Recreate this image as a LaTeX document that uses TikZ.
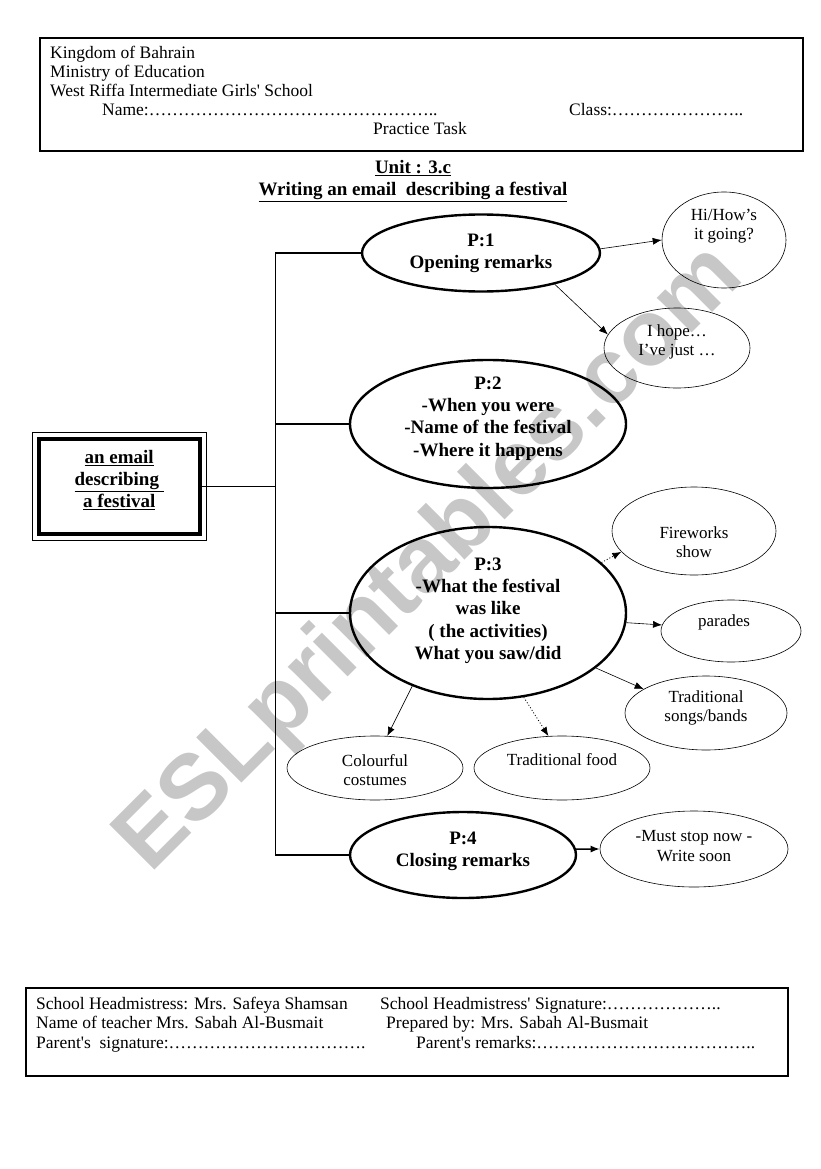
\documentclass[tikz,border=0pt]{standalone}
\usepackage{fontspec}
\setmainfont{Liberation Serif}[Ligatures=TeXOff]
\newfontfamily\wmfont{Liberation Sans}
\usetikzlibrary{shapes.geometric,arrows.meta}
\newcommand{\mydots}[1]{\foreach \i in {1,...,#1}{…}}
\begin{document}
\begin{tikzpicture}[x=1pt,y=-1pt,
  hdr/.style={anchor=base west,inner sep=0pt,font=\fontsize{17.5}{19}\selectfont},
  big/.style={draw,ellipse,line width=2.4pt,inner sep=0pt},
  small/.style={draw,ellipse,line width=0.6pt,inner sep=0pt},
  btxt/.style={align=center,inner sep=0pt,font=\bfseries\fontsize{19}{22.3}\selectfont},
  stxt/.style={align=center,inner sep=0pt,font=\fontsize{17}{19.5}\selectfont},
  arr/.style={-{Latex[length=9pt,width=7pt]},line width=0.6pt},
  darr/.style={arr,line width=0.8pt,dash pattern=on 1pt off 2pt},
  branch/.style={line width=2.6pt},
  thinline/.style={line width=0.8pt},
]
\useasboundingbox (0,0) rectangle (821,1169);
% watermark
\node[anchor=base west,rotate=45,inner sep=0pt,text=black!22,font=\wmfont\bfseries\fontsize{93}{93}\selectfont] (wm) at (150,875) {ESLprintables.com};

% header
\node[draw,line width=1.6pt,minimum width=763pt,minimum height=113pt,anchor=north west,inner sep=0pt] (head) at (39,37) {};
\node[hdr] (h1) at (50,59) {Kingdom of Bahrain};
\node[hdr] (h2) at (50,78) {Ministry of Education};
\node[hdr] (h3) at (50,97) {West Riffa Intermediate Girls' School};
\node[hdr] (h4) at (102,116) {Name:\mydots{16}..};
\node[hdr] (h5) at (569,116) {Class:\mydots{7}..};
\node[hdr,anchor=base] (h6) at (420,135) {Practice Task};

% title
\node[anchor=base,inner sep=0pt,font=\bfseries\fontsize{19}{20}\selectfont] (unit) at (413,174) {\underline{Unit : 3.c}};
\node[anchor=base,inner sep=0pt,font=\bfseries\fontsize{19}{20}\selectfont] (title) at (413,196) {\underline{Writing an email\ \ describing a festival}};

% main box
\node[draw,line width=4pt,minimum width=161pt,minimum height=95pt,inner sep=0pt] (box) at (119.2,486.2) {};
\draw[thinline] ([xshift=-4.5pt,yshift=4.5pt]box.north west) rectangle ([xshift=4.5pt,yshift=-4.5pt]box.south east);
\node[btxt,font=\bfseries\fontsize{19}{22}\selectfont] (boxt) at ([yshift=6pt]box.center) {\underline{an email}\\\underline{describing\ }\\\underline{a festival}};

% big ellipses
\node[big,minimum width=238pt,minimum height=77pt] (p1) at (481,253) {};
\node[btxt] (p1t) at (p1.center) {P:1\\Opening remarks};
\node[big,minimum width=276pt,minimum height=128pt] (p2) at (488,424) {};
\node[btxt] (p2t) at ([yshift=5.5pt]p2.center) {P:2\\-When you were\\-Name of the festival\\-Where it happens};
\node[big,minimum width=276pt,minimum height=172pt] (p3) at (488,613) {};
\node[btxt] (p3t) at ([yshift=2.5pt]p3.center) {P:3\\-What the festival\\was like\\( the activities)\\What you saw/did};
\node[big,minimum width=226pt,minimum height=86pt] (p4) at (463,855) {};
\node[btxt] (p4t) at ([yshift=3.5pt]p4.center) {P:4\\Closing remarks};

% small ellipses
\node[small,minimum width=124pt,minimum height=96pt] (hi) at (724,240) {};
\node[stxt] (hit) at ([yshift=14pt]hi.center) {Hi/How’s\\it going?};
\node[small,minimum width=146pt,minimum height=80pt] (ihope) at (677,348) {};
\node[stxt] (ihopet) at ([yshift=6pt]ihope.center) {I hope…\\I’ve just …};
\node[small,minimum width=164pt,minimum height=88pt] (fire) at (694,531) {};
\node[stxt] (firet) at ([yshift=-11pt]fire.center) {Fireworks\\show};
\node[small,minimum width=140pt,minimum height=62pt] (par) at (731,631) {};
\node[stxt] (part) at ([xshift=-7pt,yshift=9pt]par.center) {parades};
\node[small,minimum width=162pt,minimum height=74pt] (songs) at (706,713) {};
\node[stxt] (songst) at ([yshift=5pt]songs.center) {Traditional\\songs/bands};
\node[small,minimum width=176pt,minimum height=64pt] (cost) at (375,768) {};
\node[stxt] (costt) at ([yshift=-2pt]cost.center) {Colourful\\costumes};
\node[small,minimum width=176pt,minimum height=64pt] (food) at (562,768) {};
\node[stxt] (foodt) at ([yshift=8pt]food.center) {Traditional food};
\node[small,minimum width=188pt,minimum height=76pt] (close) at (694,849) {};
\node[stxt] (closet) at ([yshift=3pt]close.center) {-Must stop now -\\Write soon};

% spine and branches
\coordinate (sp) at (275,0);
\draw[thinline] (sp |- p1.west) -- (sp |- p4.west);
\draw[thinline] (box.east) -- (box.east -| sp);
\draw[branch] (sp |- p1.west) -- (p1.west);
\draw[branch] (sp |- p2.west) -- (p2.west);
\draw[branch] (sp |- p3.west) -- (p3.west);
\draw[branch] (sp |- p4.west) -- (p4.west);

% arrows
\draw[arr] (p1.2) -- (hi.180);
\draw[arr] (p1.-23) -- (ihope.169);
\draw[darr] (p3.24) -- (fire.196);
\draw[arr] (p3.-4) -- (par.175);
\draw[arr] (p3.-27) -- (songs.159);
\draw[arr] (p3.224) -- (cost.69);
\draw[darr] (p3.-67) -- (food.113);
\draw[arr,line width=1.5pt] (p4.3) -- (close.180);

% footer
\node[draw,line width=1.6pt,anchor=north west,minimum width=762pt,minimum height=88pt,inner sep=0pt] (foot) at (25,987) {};
\node[hdr] (f1) at (36,1009) {School Headmistress: Mrs. Safeya Shamsan};
\node[hdr] (f2) at (36,1028) {Name of teacher Mrs. Sabah Al-Busmait};
\node[hdr] (f3) at (36,1048) {Parent's\ \ signature:\mydots{11}.};
\node[hdr] (f4) at (380,1009) {School Headmistress' Signature:\mydots{6}..};
\node[hdr] (f5) at (386,1028) {Prepared by: Mrs. Sabah Al-Busmait};
\node[hdr] (f6) at (416,1048) {Parent's remarks:\mydots{12}..};
\end{tikzpicture}
\end{document}
